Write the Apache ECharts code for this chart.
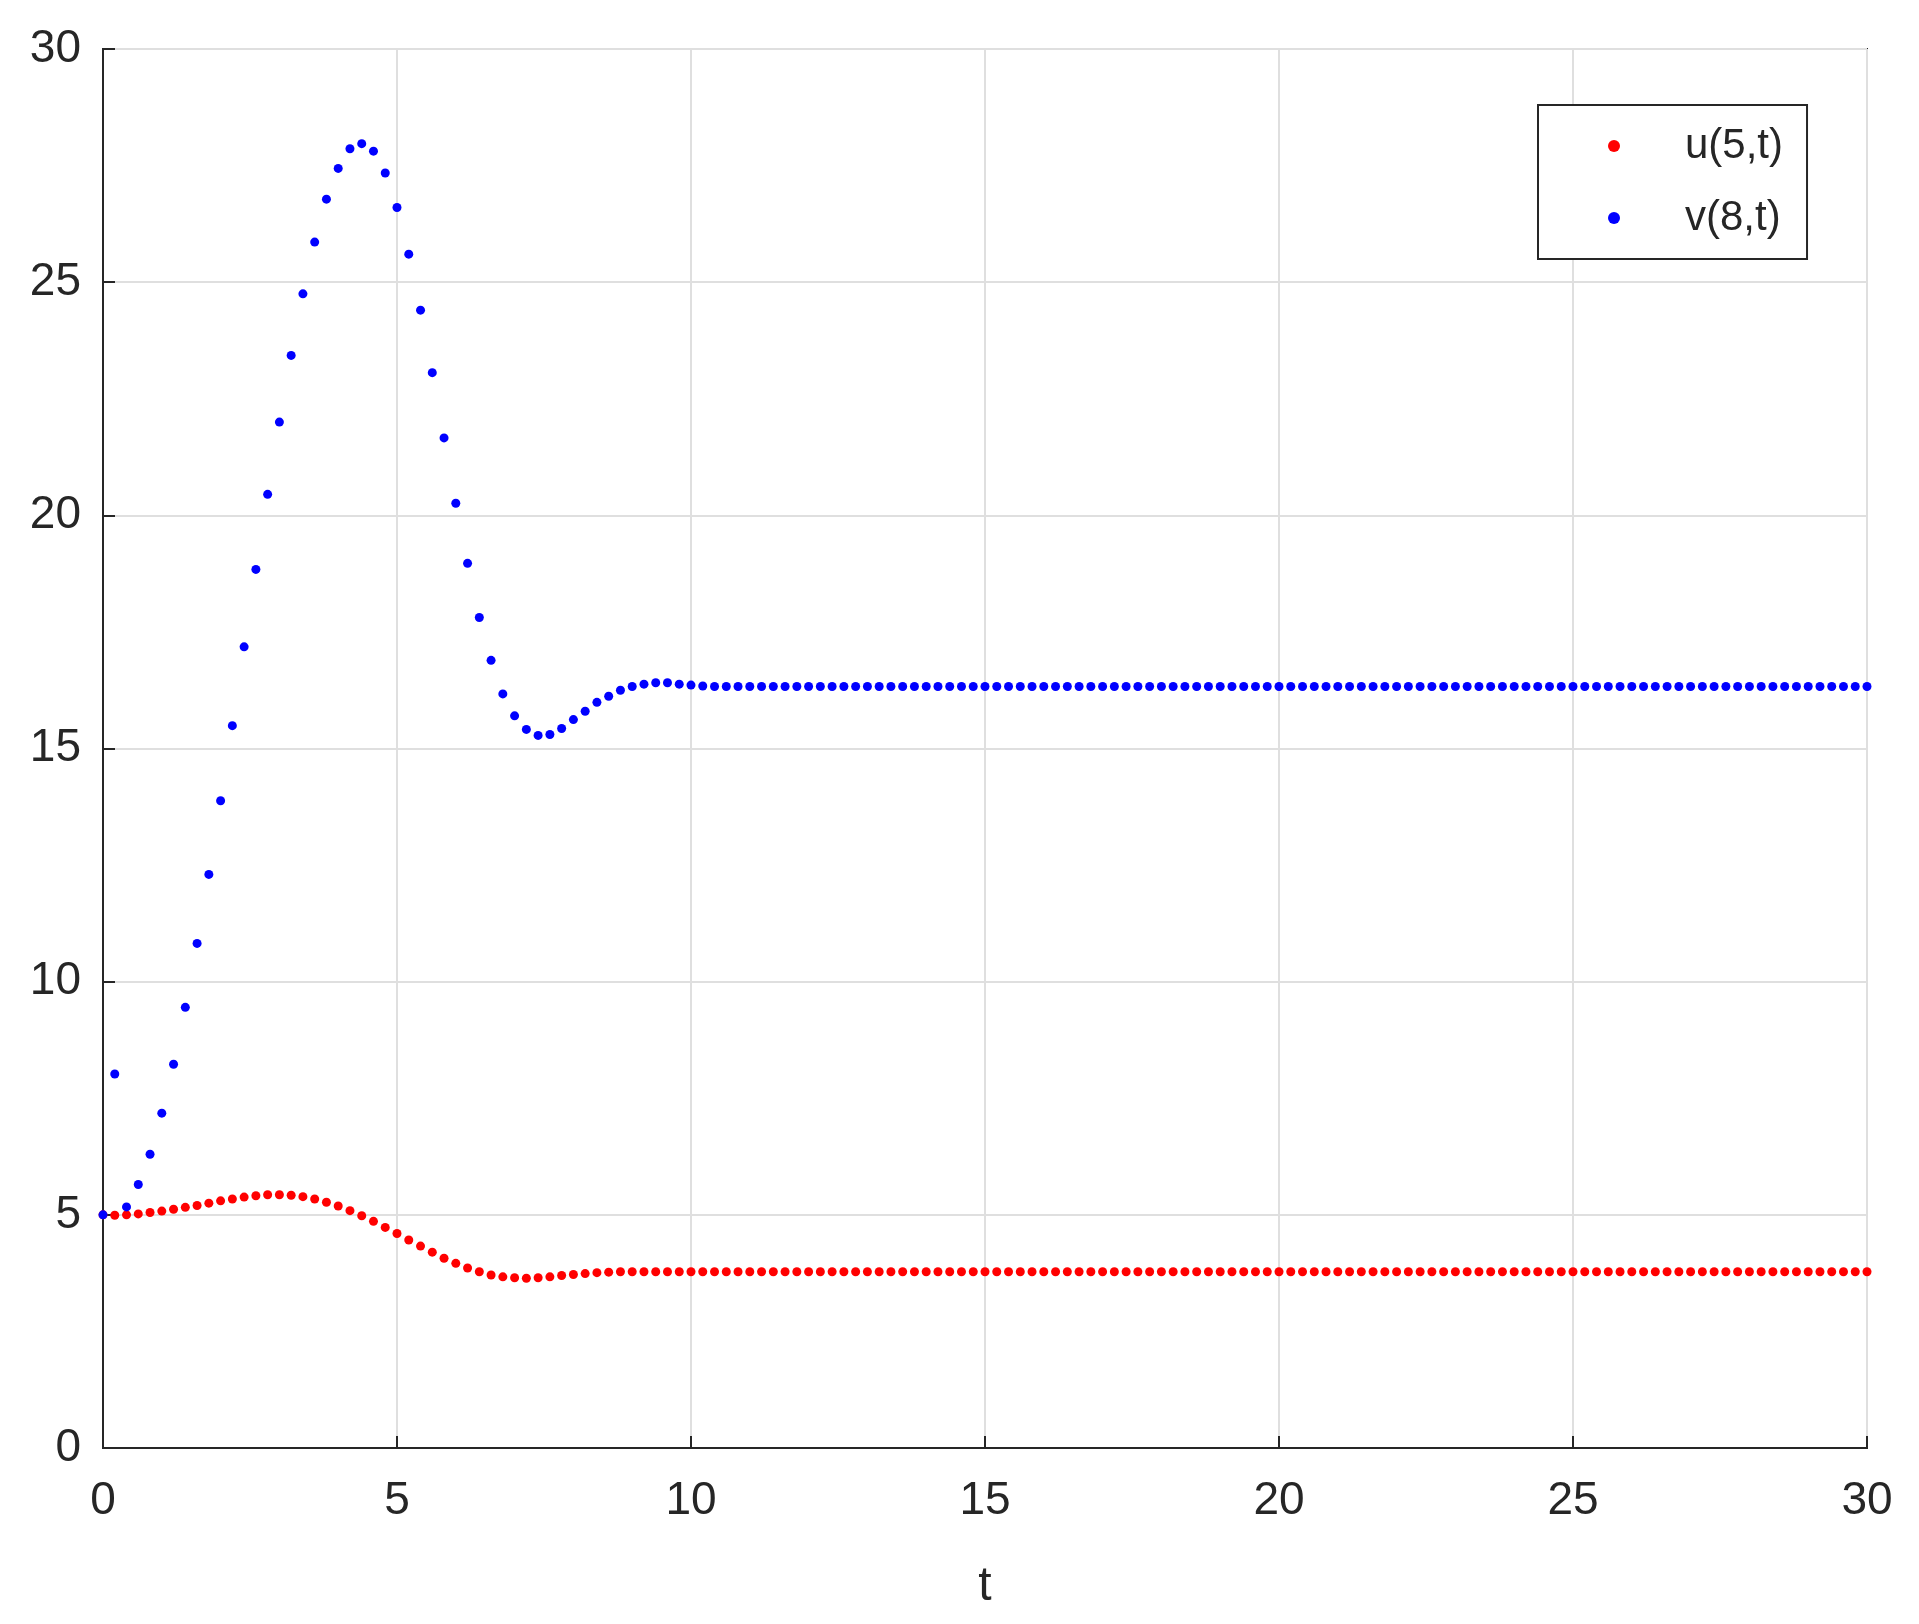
<!DOCTYPE html>
<html><head><meta charset="utf-8">
<script src="https://cdn.jsdelivr.net/npm/echarts@6/dist/echarts.min.js"></script>
<style>html,body{margin:0;padding:0;background:#fff}#c{width:1919px;height:1624px}</style>
</head><body><div id="c"></div>
<script>
const tStep = 0.2;
const uValues = [5.0,4.99,5.0,5.02,5.05,5.08,5.12,5.16,5.2,5.25,5.3,5.34,5.38,5.41,5.43,5.43,5.42,5.39,5.34,5.27,5.19,5.09,4.98,4.86,4.73,4.6,4.46,4.33,4.2,4.07,3.96,3.86,3.78,3.71,3.67,3.65,3.64,3.65,3.67,3.7,3.72,3.74,3.76,3.77,3.78,3.78,
3.78,3.78,3.78,3.78,3.78,3.78,3.78,3.78,3.78,3.78,3.78,3.78,3.78,3.78,3.78,
3.78,3.78,3.78,3.78,3.78,3.78,3.78,3.78,3.78,3.78,3.78,3.78,3.78,3.78,3.78,
3.78,3.78,3.78,3.78,3.78,3.78,3.78,3.78,3.78,3.78,3.78,3.78,3.78,3.78,3.78,
3.78,3.78,3.78,3.78,3.78,3.78,3.78,3.78,3.78,3.78,3.78,3.78,3.78,3.78,3.78,
3.78,3.78,3.78,3.78,3.78,3.78,3.78,3.78,3.78,3.78,3.78,3.78,3.78,3.78,3.78,
3.78,3.78,3.78,3.78,3.78,3.78,3.78,3.78,3.78,3.78,3.78,3.78,3.78,3.78,3.78,
3.78,3.78,3.78,3.78,3.78,3.78,3.78,3.78,3.78,3.78,3.78,3.78,3.78,3.78,3.78];
const vValues = [5.0,8.02,5.17,5.65,6.3,7.18,8.23,9.45,10.82,12.3,13.88,15.49,17.18,18.84,20.45,22.0,23.43,24.75,25.86,26.78,27.44,27.86,27.97,27.81,27.34,26.6,25.6,24.4,23.06,21.66,20.26,18.97,17.81,16.89,16.17,15.7,15.41,15.28,15.3,15.43,15.62,15.8,15.99,16.12,16.25,16.33,16.38,16.41,16.41,16.38,16.36,
16.34,16.33,16.33,16.33,16.33,16.33,16.33,16.33,16.33,16.33,
16.33,16.33,16.33,16.33,16.33,16.33,16.33,16.33,16.33,16.33,
16.33,16.33,16.33,16.33,16.33,16.33,16.33,16.33,16.33,16.33,
16.33,16.33,16.33,16.33,16.33,16.33,16.33,16.33,16.33,16.33,
16.33,16.33,16.33,16.33,16.33,16.33,16.33,16.33,16.33,16.33,
16.33,16.33,16.33,16.33,16.33,16.33,16.33,16.33,16.33,16.33,
16.33,16.33,16.33,16.33,16.33,16.33,16.33,16.33,16.33,16.33,
16.33,16.33,16.33,16.33,16.33,16.33,16.33,16.33,16.33,16.33,
16.33,16.33,16.33,16.33,16.33,16.33,16.33,16.33,16.33,16.33,
16.33,16.33,16.33,16.33,16.33,16.33,16.33,16.33,16.33,16.33];
const seriesNames = ['u(5,t)','v(8,t)'];
const toPairs = a => a.map((y,i)=>[+(i*tStep).toFixed(1), y]);
const font = 'Liberation Sans';
const chart = echarts.init(document.getElementById('c'));
chart.setOption({
  animation:false,
  grid:{left:103,right:52,top:49,bottom:176,show:true,borderColor:'#262626',borderWidth:2,backgroundColor:'#fff'},
  xAxis:{type:'value',min:0,max:30,interval:5,name:'t',nameLocation:'middle',nameGap:115,
    nameTextStyle:{fontFamily:font,fontSize:48,color:'#262626'},
    axisLine:{lineStyle:{color:'#262626',width:2}},axisTick:{inside:true,length:12,lineStyle:{color:'#262626',width:2}},
    axisLabel:{fontFamily:font,fontSize:46,color:'#262626',margin:30},
    splitLine:{lineStyle:{color:'#dfdfdf',width:2}}},
  yAxis:{type:'value',min:0,max:30,interval:5,
    axisLine:{show:true,lineStyle:{color:'#262626',width:2}},axisTick:{show:true,inside:true,length:12,lineStyle:{color:'#262626',width:2}},
    axisLabel:{fontFamily:font,fontSize:46,color:'#262626',margin:22},
    splitLine:{lineStyle:{color:'#dfdfdf',width:2}}},
  legend:{orient:'vertical',left:1538,top:105,itemGap:30,
    padding:[20,24,20,70],backgroundColor:'#fff',borderColor:'#262626',borderWidth:2,
    itemWidth:12,itemHeight:12,icon:'circle',
    textStyle:{fontFamily:font,fontSize:42,color:'#262626',padding:[0,0,0,60]},
    data:seriesNames},
  series:[
    {name:seriesNames[0],type:'scatter',symbolSize:9,itemStyle:{color:'#ff0000',opacity:1},data:toPairs(uValues)},
    {name:seriesNames[1],type:'scatter',symbolSize:9,itemStyle:{color:'#0000ff',opacity:1},data:toPairs(vValues)}
  ]
});
</script></body></html>
